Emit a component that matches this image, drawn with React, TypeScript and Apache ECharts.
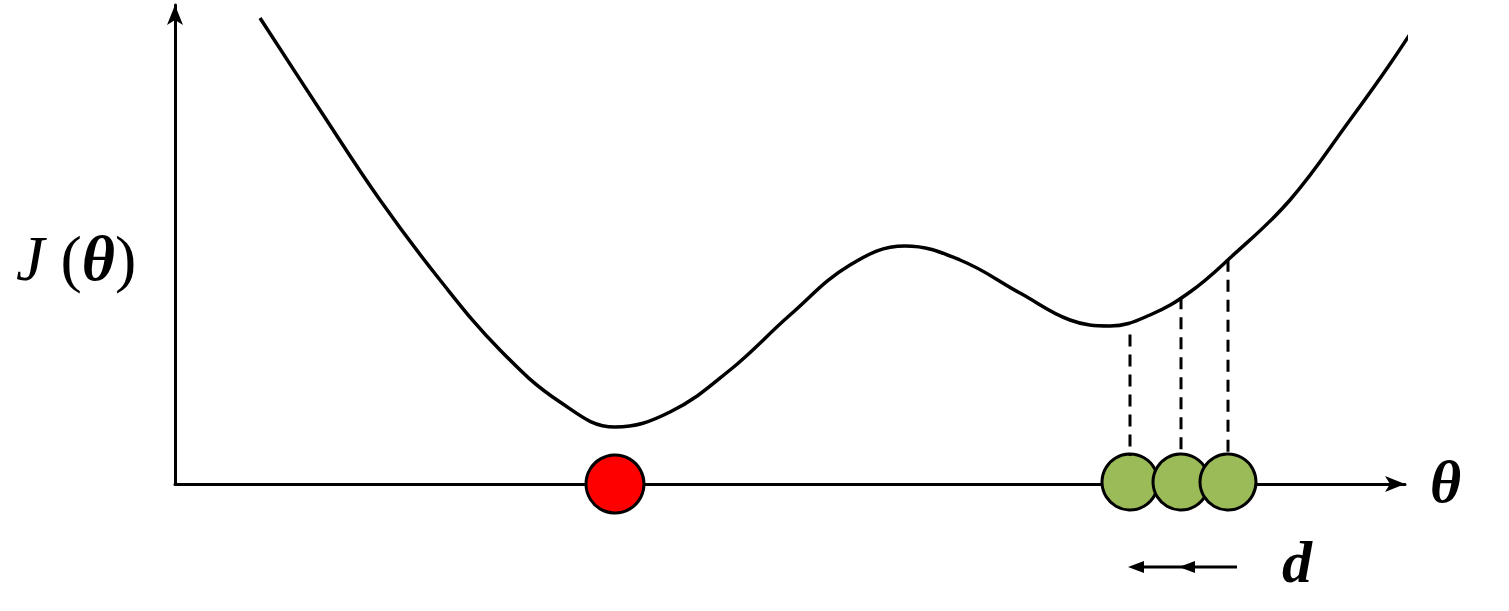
import React, { useEffect, useRef } from 'react'
import * as echarts from 'echarts'

// curve J(theta), x from y-axis, y above x-axis
const curveX = [85, 145, 205, 265, 325, 385, 440, 495, 555, 615, 675, 730, 785, 845, 895, 935, 975, 1015, 1055, 1115, 1175, 1215, 1257]
const curveY = [466, 374, 284, 204, 134, 82, 57, 72, 114, 169, 219, 238, 224, 191, 164, 158, 169, 192, 226, 284, 364, 420, 484]
const redX = [440]
const greenX = [955, 1006, 1053]
const stepArrowY = -83

const App = () => {
  const chartRef = useRef<HTMLDivElement>(null)

  useEffect(() => {
    if (!chartRef.current) return
    const chart = echarts.init(chartRef.current, null, { renderer: 'svg' })
    const curve = curveX.map((x, i) => [x, curveY[i]])
    const yAt = (x: number) => {
      for (let i = 1; i < curveX.length; i++) {
        if (x <= curveX[i]) {
          const t = (x - curveX[i - 1]) / (curveX[i] - curveX[i - 1])
          return curveY[i - 1] + t * (curveY[i] - curveY[i - 1])
        }
      }
      return 0
    }
    const dashes = greenX.map((x, i) => ({
      type: 'line',
      data: [[x, i === 0 ? yAt(x) - 14 : yAt(x)], [x, 28]],
      symbol: 'none',
      clip: false,
      lineStyle: { color: '#000', width: 3, type: [12, 8] },
    }))
    const stepLines = greenX.slice(0, 2).map((x, i) => ({
      type: 'line',
      data: [[greenX[i + 1] + 9, stepArrowY], [x + 4, stepArrowY]],
      symbol: 'none',
      clip: false,
      lineStyle: { color: '#000', width: 3 },
    }))

    chart.setOption({
      animation: false,
      grid: { left: 175, right: 104, top: 5, bottom: 127 },
      xAxis: {
        type: 'value', min: 0, max: 1230,
        axisLine: { lineStyle: { color: '#000', width: 3 }, symbol: ['none', 'arrow'], symbolSize: [12, 20] },
        axisTick: { show: false }, axisLabel: { show: false }, splitLine: { show: false },
      },
      yAxis: {
        type: 'value', min: 0, max: 479,
        axisLine: { show: true, lineStyle: { color: '#000', width: 3 }, symbol: ['none', 'arrow'], symbolSize: [12, 20] },
        axisTick: { show: false }, axisLabel: { show: false }, splitLine: { show: false },
      },
      series: [
        {
          type: 'line', data: curve, smooth: 0.4, symbol: 'none', clip: false,
          lineStyle: { color: '#000', width: 3.5 },
        },
        ...dashes,
        ...stepLines,
        {
          type: 'scatter', data: greenX.slice(0, 2).map((x) => [x + 6, stepArrowY]), clip: false,
          symbol: 'triangle', symbolRotate: 90, symbolSize: [12, 16],
          itemStyle: { color: '#000', opacity: 1 },
        },
        {
          type: 'scatter', data: greenX.map((x) => [x, 2]), symbolSize: 56, clip: false,
          itemStyle: { color: '#9bbb59', borderColor: '#000', borderWidth: 3, opacity: 1 },
        },
        {
          type: 'scatter', data: redX.map((x) => [x, 0]), symbolSize: 58, clip: false,
          itemStyle: { color: '#ff0000', borderColor: '#000', borderWidth: 3, opacity: 1 },
        },
      ],
      graphic: [
        {
          type: 'text', left: 16, top: 226,
          style: {
            text: '{j|J}{p| (}{t|θ}{p|)}', fill: '#000',
            rich: {
              j: { fontFamily: 'Liberation Serif', fontStyle: 'italic', fontSize: 64 },
              p: { fontFamily: 'Liberation Serif', fontSize: 64 },
              t: { fontFamily: 'Liberation Serif', fontStyle: 'italic', fontWeight: 'bold', fontSize: 64 },
            },
          },
        },
        {
          type: 'text', left: 1430, top: 452,
          style: { text: 'θ', fill: '#000', fontFamily: 'Liberation Serif', fontStyle: 'italic', fontWeight: 'bold', fontSize: 60 },
        },
        {
          type: 'text', left: 1282, top: 532,
          style: { text: 'd', fill: '#000', fontFamily: 'Liberation Serif', fontStyle: 'italic', fontWeight: 'bold', fontSize: 60 },
        },
      ],
    })
    return () => chart.dispose()
  }, [])

  return <div ref={chartRef} style={{ position: 'absolute', left: 0, top: 0, width: 1509, height: 611 }} />
}

export default App
